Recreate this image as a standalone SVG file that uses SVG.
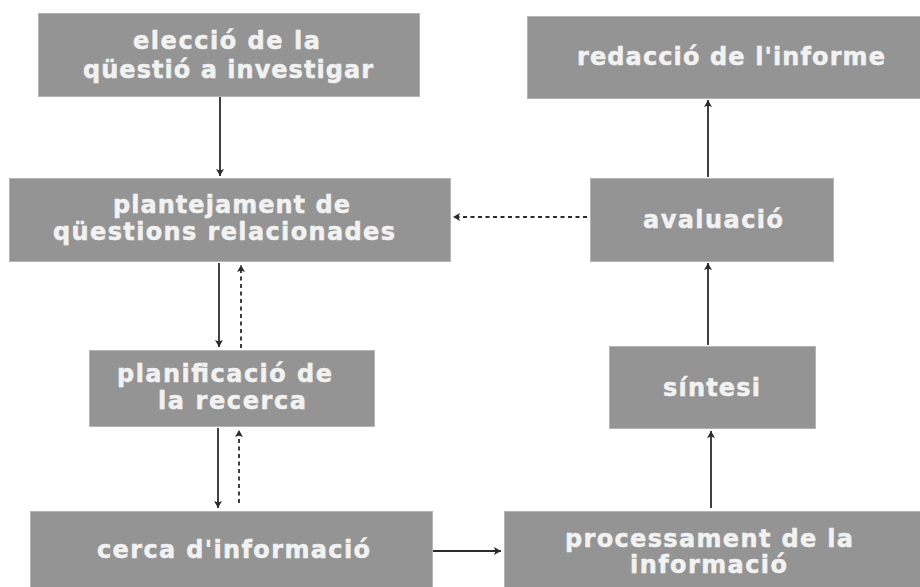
<svg xmlns="http://www.w3.org/2000/svg" width="920" height="587" viewBox="0 0 920 587">
<style>
.box{fill:#949494;stroke:#b4b4b4;stroke-width:1}
.lbl{font-family:"DejaVu Sans","Liberation Sans",sans-serif;font-weight:bold;font-size:24px;fill:#f2f2f2;stroke:#f2f2f2;stroke-width:0.5;text-anchor:middle}
.ln{stroke:#2b2b2b;stroke-width:1.8;fill:none}
.dash{stroke-dasharray:4 3.5}
</style>
<defs>
<marker id="ah" markerUnits="userSpaceOnUse" markerWidth="10" markerHeight="10" refX="7" refY="4.5" orient="auto">
<path d="M0,0.5 L7,4.5 L0,8.5 L1.5,4.5 z" fill="#2b2b2b"/>
</marker>
</defs>
<rect width="920" height="587" fill="#ffffff"/>
<g id="n1"><rect class="box" x="38.5" y="13.5" width="381" height="83"/>
<text class="lbl" x="226.5" y="49" textLength="187" lengthAdjust="spacing">elecció de la</text>
<text class="lbl" x="228" y="78" textLength="290" lengthAdjust="spacing">qüestió a investigar</text></g>
<g id="n2"><rect class="box" x="9.5" y="178.5" width="441" height="83"/>
<text class="lbl" x="231.5" y="213" textLength="237" lengthAdjust="spacing">plantejament de</text>
<text class="lbl" x="224" y="240" textLength="342" lengthAdjust="spacing">qüestions relacionades</text></g>
<g id="n3"><rect class="box" x="89.5" y="350.5" width="285" height="76"/>
<text class="lbl" x="224.5" y="382" textLength="215" lengthAdjust="spacing">planificació de</text>
<text class="lbl" x="232" y="409" textLength="148" lengthAdjust="spacing">la recerca</text></g>
<g id="n4"><rect class="box" x="30.5" y="511.5" width="402" height="80"/>
<text class="lbl" x="233.5" y="558" textLength="273" lengthAdjust="spacing">cerca d'informació</text></g>
<g id="n5"><rect class="box" x="527.5" y="16.5" width="396" height="82"/>
<text class="lbl" x="731" y="65" textLength="308" lengthAdjust="spacing">redacció de l'informe</text></g>
<g id="n6"><rect class="box" x="590.5" y="178.5" width="243" height="83"/>
<text class="lbl" x="713" y="228" textLength="140" lengthAdjust="spacing">avaluació</text></g>
<g id="n7"><rect class="box" x="609.5" y="346.5" width="206" height="82"/>
<text class="lbl" x="711.5" y="396" textLength="97" lengthAdjust="spacing">síntesi</text></g>
<g id="n8"><rect class="box" x="504.5" y="511.5" width="420" height="80"/>
<text class="lbl" x="709" y="547" textLength="288" lengthAdjust="spacing">processament de la</text>
<text class="lbl" x="708.5" y="573" textLength="157" lengthAdjust="spacing">informació</text></g>
<g id="connectors">
<line class="ln" x1="220" y1="97" x2="220" y2="176" marker-end="url(#ah)"/>
<line class="ln" x1="219" y1="263" x2="219" y2="347" marker-end="url(#ah)"/>
<line class="ln dash" x1="241" y1="348" x2="241" y2="265" marker-end="url(#ah)"/>
<line class="ln" x1="218" y1="428" x2="218" y2="508" marker-end="url(#ah)"/>
<line class="ln dash" x1="239" y1="503" x2="239" y2="430" marker-end="url(#ah)"/>
<line class="ln" x1="433" y1="551" x2="501" y2="551" marker-end="url(#ah)"/>
<line class="ln" x1="711" y1="508" x2="711" y2="431" marker-end="url(#ah)"/>
<line class="ln" x1="708" y1="345" x2="708" y2="263" marker-end="url(#ah)"/>
<line class="ln" x1="708" y1="177" x2="708" y2="100" marker-end="url(#ah)"/>
<line class="ln dash" x1="587" y1="217" x2="453" y2="217" marker-end="url(#ah)"/>
</g>
</svg>
